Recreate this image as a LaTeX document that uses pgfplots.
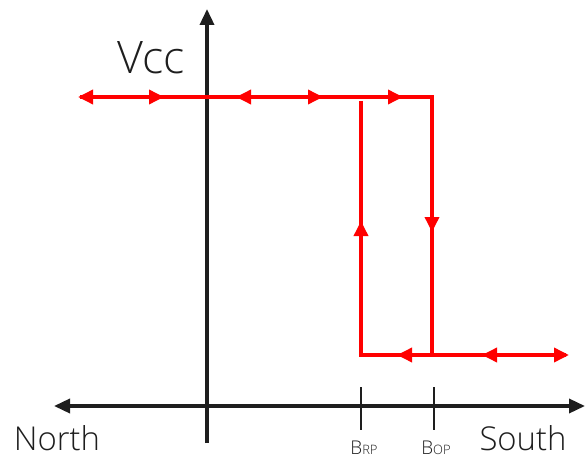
\documentclass[border=0pt]{standalone}
\usepackage{pgfplots}
\pgfplotsset{compat=1.18}
\usepackage{fontspec}
\setmainfont{Open Sans}[UprightFont={* Light}]
\usetikzlibrary{arrows.meta}
\definecolor{loopred}{RGB}{255,0,0}
\definecolor{ink}{RGB}{30,30,30}
\begin{document}
\begin{tikzpicture}[lbl/.style={ink, anchor=base, inner sep=0pt}]
\begin{axis}[
  name=main,
  width=585bp, height=458bp, scale only axis,
  xmin=0, xmax=585, ymin=0, ymax=458, y dir=reverse,
  axis lines=none, clip=false,
  tip/.style={loopred, line width=3.5bp, -{Triangle[length=15bp,width=14bp]}},
]
% axes
\addplot[ink, line width=3.5bp, -{Triangle[length=16bp,width=14bp]}] coordinates {(207,443) (207,9)};
\addplot[ink, line width=3.5bp, {Triangle[length=16bp,width=14bp]}-{Triangle[length=16bp,width=14bp]}] coordinates {(54,406) (585,406)};
% ticks at B_RP and B_OP
\addplot[ink, line width=1.2bp] coordinates {(361,387) (361,430)};
\addplot[ink, line width=1.2bp] coordinates {(434,387) (434,430)};
% hysteresis loop
\addplot[loopred, line width=3.5bp] coordinates {(80,97) (432,97) (432,355)};
\addplot[loopred, line width=3.5bp] coordinates {(361,101) (361,355) (566,355)};
% arrow heads on the top branch
\addplot[tip] coordinates {(100,97) (78,97)};
\addplot[tip] coordinates {(140,97) (164,97)};
\addplot[tip] coordinates {(260,97) (236,97)};
\addplot[tip] coordinates {(300,97) (323,97)};
\addplot[tip] coordinates {(380,97) (403,97)};
% vertical branches
\addplot[tip] coordinates {(432,200) (432,232)};
\addplot[tip] coordinates {(361,250) (361,221)};
% bottom branch
\addplot[tip] coordinates {(420,355) (397,355)};
\addplot[tip] coordinates {(505,355) (482,355)};
\addplot[tip] coordinates {(545,355) (569,355)};
% labels
\node[lbl, font=\fontsize{45}{45}\selectfont] at (axis cs:151,74) {Vcc};
\node[lbl, font=\fontsize{33}{33}\selectfont] at (axis cs:57,450) {North};
\node[lbl, font=\fontsize{33}{33}\selectfont] at (axis cs:523,450) {South};
\node[lbl] at (axis cs:364,454) {\fontsize{19}{19}\selectfont B\fontsize{13}{13}\selectfont RP};
\node[lbl] at (axis cs:436,454) {\fontsize{19}{19}\selectfont B\fontsize{13}{13}\selectfont OP};
\end{axis}
\pgfresetboundingbox
\path (main.south west) rectangle (main.north east);
\end{tikzpicture}
\end{document}
